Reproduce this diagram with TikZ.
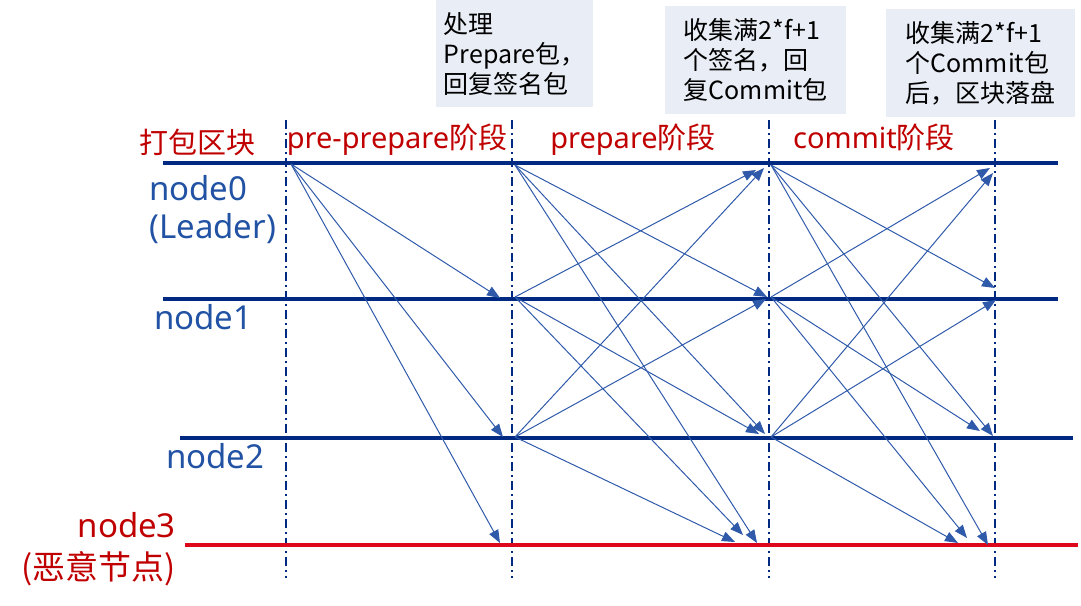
\documentclass[tikz,border=0pt]{standalone}
\usepackage{fontspec}
\setmainfont{Noto Sans CJK SC}
\newfontfamily\cjk{Noto Sans CJK SC}
\newfontfamily\latin{Noto Sans}
\usetikzlibrary{arrows.meta}

\definecolor{lanecol}{RGB}{0,42,130}
\definecolor{msgcol}{RGB}{47,90,170}
\definecolor{labcol}{RGB}{33,82,164}
\definecolor{redlab}{RGB}{192,0,0}
\definecolor{redlane}{RGB}{222,8,28}
\definecolor{notecol}{RGB}{233,237,245}

\begin{document}
\begin{tikzpicture}[x=1pt,y=-1pt,
    lane/.style={draw=lanecol,line width=3.2pt},
    phaseline/.style={draw=lanecol,line width=2pt,dash pattern=on 9pt off 4pt on 2pt off 4pt},
    msg/.style={draw=msgcol,line width=1pt,-{Triangle[length=13pt,width=10pt]}},
    lab/.style={inner sep=0pt,text=labcol,font=\latin\fontsize{33}{38}\selectfont},
    phase/.style={inner sep=0pt,anchor=base,text=redlab,font=\cjk\fontsize{29}{35}\selectfont},
    note/.style={fill=notecol,anchor=north west,inner sep=0pt,align=left,font=\cjk\fontsize{25}{30}\selectfont}]
    \useasboundingbox (0,0) rectangle (1081,605);

    % notes
    \node[note,minimum width=157pt,minimum height=107pt] (note1) at (436,0) {处理\\Prepare包，\\回复签名包};
    \node[note,minimum width=181pt,minimum height=108pt] (note2) at (665,6) {收集满2*f+1\\个签名，回\\复Commit包};
    \node[note,minimum width=189pt,minimum height=108pt] (note3) at (886,9) {收集满2*f+1\\个Commit包\\后，区块落盘};

    % phases and lanes
    \foreach \x in {286,512,769,995} \draw[phaseline] (\x,120) -- (\x,578);
    \draw[lane] (163,163) -- (1058,163);
    \draw[lane] (163,299) -- (1058,299);
    \draw[lane] (180,438) -- (1073,438);
    \draw[lane,draw=redlane] (185,545) -- (1078,545);

    \node[phase] (pack) at (197,153) {打包区块};
    \node[phase] (ph-pre) at (397,148) {{\latin pre-prepare}阶段};
    \node[phase] (ph-prep) at (633,148) {{\latin prepare}阶段};
    \node[phase] (ph-com) at (874,148) {{\latin commit}阶段};

    \node[lab,anchor=base west,align=left] (lab0) at (149,238) {node0\\(Leader)};
    \node[lab,anchor=base west] (lab1) at (154,329) {node1};
    \node[lab,anchor=base west] (lab2) at (166,468) {node2};
    \node[lab,anchor=base east,align=right,text=redlab] (lab3) at (176,579) {node3\\[4pt]{\cjk (恶意节点)}};

    % pre-prepare
    \coordinate (pp) at (291,164);
    \foreach \n/\x/\y in {1/500/298,2/503/437,3/500/543} {
        \coordinate (pp\n) at (\x,\y);
        \draw[msg] (pp) -- (pp\n);
    }

    % prepare and commit
    \foreach \n/\y in {0/165,1/297,2/437} {
        \coordinate (p\n) at (515,\y);
        \coordinate (c\n) at (771,\y);
    }
    \foreach \nm/\x/\y in {p01/767/297,p02/765/434,p03/757/543,p10/756/170,p12/759/434,p13/743/535,
        p20/764/168,p21/766/299,p23/735/542,c01/995/288,c02/993/436,c03/988/545,c10/990/168,
        c12/980/431,c13/967/538,c20/993/173,c21/996/300,c23/958/543}
        \coordinate (\nm) at (\x,\y);
    \foreach \a/\b in {0/1,0/2,0/3,1/0,1/2,1/3,2/0,2/1,2/3} {
        \draw[msg] (p\a) -- (p\a\b);
        \draw[msg] (c\a) -- (c\a\b);
    }
\end{tikzpicture}
\end{document}
